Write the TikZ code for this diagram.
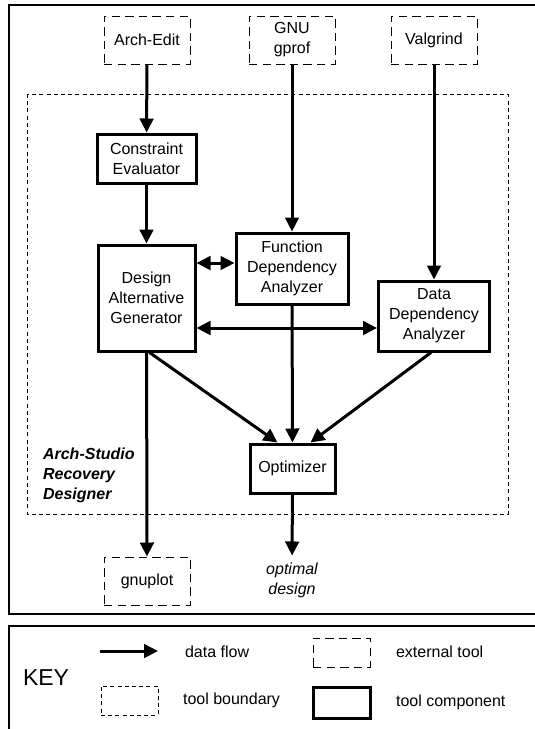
\documentclass[tikz,border=0pt]{standalone}
\usepackage{fontspec}
\setmainfont{Liberation Sans}
\usetikzlibrary{arrows.meta,positioning}
\tikzset{
    comp/.style={
        draw,line width=1.5pt,align=center,
        font=\fontsize{8}{10}\selectfont
    },
    ext/.style={
        draw,line width=0.5pt,dash pattern=on 4.2pt off 2.6pt,align=center,
        minimum width=43pt,minimum height=24pt,
        font=\fontsize{8}{10}\selectfont
    },
    bnd/.style={
        draw,line width=0.5pt,dash pattern=on 2pt off 1.6pt
    },
    arrow/.style={
        -{Triangle[length=7pt,width=6.8pt]},line width=1.5pt
    },
    darrow/.style={
        {Triangle[length=7pt,width=6.8pt]}-{Triangle[length=7pt,width=6.8pt]},
        line width=1.5pt
    },
    keytext/.style={anchor=west,font=\fontsize{8}{10}\selectfont}
}

\begin{document}
\begin{tikzpicture}[x=0.5pt,y=-0.5pt]

\clip (0,0) rectangle (535,729);

\draw[line width=1pt] (9,5) rectangle (560,614);
\draw[line width=1pt] (9,626) rectangle (560,760);
\draw[bnd] (27,94) rectangle (508,514);

\node[ext] (archedit) at (147,40) {Arch-Edit};
\node[ext] (gprof) at (292,40) {GNU\\gprof};
\node[ext] (valgrind) at (434,40) {Valgrind};

\node[comp,minimum width=49.5pt,minimum height=24.5pt]
(constraint) at (146.5,158.5) {Constraint\\Evaluator};
\node[comp,minimum width=48.5pt,minimum height=53pt]
(dag) at (146.5,298) {Design\\Alternative\\Generator};
\node[comp,minimum width=56pt,minimum height=35.5pt]
(fda) at (292,268.5) {Function\\Dependency\\Analyzer};
\node[comp,minimum width=55.5pt,minimum height=35pt]
(dda) at (434,316) {Data\\Dependency\\Analyzer};
\node[comp,minimum width=42.5pt,minimum height=24.5pt]
(opt) at (292.5,468.5) {Optimizer};

\node[ext] (gnuplot) at (147,581) {gnuplot};
\node[align=center,font=\fontsize{8}{10}\selectfont\itshape]
(design) at (292,580) {optimal\\design};

\node[anchor=north west,align=left,font=\fontsize{8}{10}\selectfont\bfseries\itshape]
(asrd) at (36,441) {Arch-Studio\\Recovery\\Designer};

\coordinate (fdain) at ([yshift=2.75pt]fda.west);
\coordinate (ddain) at ([yshift=-6pt]dda.west);

\draw[arrow] (archedit) -- (constraint);
\draw[arrow] (constraint) -- (dag);
\draw[arrow] (gprof) -- (fda);
\draw[arrow] (valgrind) -- (dda);
\draw[darrow] (fdain -| dag.east) -- (fdain);
\draw[darrow] (ddain -| dag.east) -- (ddain);
\draw[arrow] ([xshift=1.5pt]dag.south) -- ([xshift=-7.5pt]opt.north);
\draw[arrow] (fda) -- (opt);
\draw[arrow] ([xshift=-1.5pt]dda.south) -- ([xshift=9pt]opt.north);
\draw[arrow] (dag) -- (gnuplot);
\draw[arrow] (opt) -- (design);

\node[anchor=west,font=\fontsize{11.5}{14}\selectfont] (key) at (16,678) {KEY};
\coordinate (flowa) at (100,651);
\coordinate (flowb) at (158,651);
\draw[arrow] (flowa) -- (flowb);
\node[keytext] (flow) at (178,652) {data flow};
\node[ext,minimum width=28.5pt,minimum height=14.5pt] (extkey) at (341.5,652.5) {};
\node[keytext] (exttext) at (389,652) {external tool};
\node[bnd,minimum width=28.5pt,minimum height=14.5pt] (bndkey) at (129.5,700.5) {};
\node[keytext] (bndtext) at (176,700) {tool boundary};
\node[comp,minimum width=28.5pt,minimum height=15.5pt] (compkey) at (341.5,702.5) {};
\node[keytext] (comptext) at (389,702) {tool component};

\end{tikzpicture}
\end{document}
